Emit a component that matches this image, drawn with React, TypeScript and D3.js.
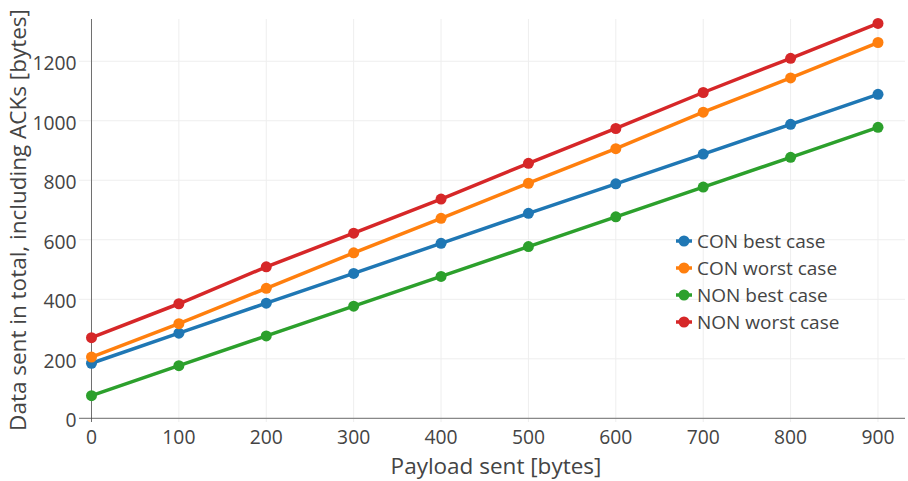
import React from "react";
import * as d3 from "d3";

const payload = [0, 100, 200, 300, 400, 500, 600, 700, 800, 900];
const conBest = [185, 286, 387, 487, 588, 689, 788, 888, 988, 1089];
const conWorst = [206, 318, 437, 556, 672, 790, 906, 1029, 1144, 1263];
const nonBest = [76, 177, 277, 377, 477, 577, 677, 777, 877, 978];
const nonWorst = [271, 385, 509, 622, 737, 857, 974, 1095, 1210, 1327];
const seriesNames = ["CON best case", "CON worst case", "NON best case", "NON worst case"];
const seriesColors = ["#1f77b4", "#ff7f0e", "#2ca02c", "#d62728"];
const xTicks = [0, 100, 200, 300, 400, 500, 600, 700, 800, 900];
const yTicks = [0, 200, 400, 600, 800, 1000, 1200];

const W = 908;
const H = 481;
const FONT = "'Open Sans', sans-serif";
const TEXT = "#444";

export default function App() {
  const x = d3.scaleLinear().domain([-14.3, 930.9]).range([79, 905]);
  const y = d3.scaleLinear().domain([-12.4, 1342]).range([422, 19]);
  const series = [conBest, conWorst, nonBest, nonWorst];
  const line = d3
    .line<number>()
    .x((_, i) => x(payload[i]))
    .y((d) => y(d));

  return (
    <svg
      width={W}
      height={H}
      style={{ position: "absolute", left: 0, top: 0, background: "#fff" }}
      fontFamily={FONT}
    >
      {/* grid */}
      {xTicks.map((t) => (
        <line key={"gx" + t} x1={x(t)} x2={x(t)} y1={19} y2={422} stroke="#eee" strokeWidth={1} />
      ))}
      {yTicks.map((t) => (
        <line key={"gy" + t} x1={79} x2={905} y1={y(t)} y2={y(t)} stroke="#eee" strokeWidth={1} />
      ))}
      {/* zero lines */}
      <line x1={x(0)} x2={x(0)} y1={19} y2={422} stroke="#444" strokeWidth={1} opacity={0.75} />
      <line x1={79} x2={905} y1={y(0)} y2={y(0)} stroke="#444" strokeWidth={1} opacity={0.75} />
      {/* tick labels */}
      {xTicks.map((t) => (
        <text key={"tx" + t} x={x(t)} y={443.5} textAnchor="middle" fontSize={19.3} fill={TEXT}>
          {t}
        </text>
      ))}
      {yTicks.map((t) => (
        <text key={"ty" + t} x={76.5} y={y(t) + 9} textAnchor="end" fontSize={19.3} fill={TEXT}>
          {t}
        </text>
      ))}
      {/* axis titles */}
      <text x={(79 + 905) / 2 + 4} y={474} textAnchor="middle" fontSize={22.5} fill={TEXT}>
        Payload sent [bytes]
      </text>
      <text
        transform={`translate(26,220) rotate(-90)`}
        textAnchor="middle"
        fontSize={22.5}
        fill={TEXT}
      >
        Data sent in total, including ACKs [bytes]
      </text>
      {/* series */}
      {series.map((s, k) => (
        <g key={"s" + k}>
          <path d={line(s) || ""} fill="none" stroke={seriesColors[k]} strokeWidth={3.5} />
          {s.map((v, i) => (
            <circle key={i} cx={x(payload[i])} cy={y(v)} r={5.5} fill={seriesColors[k]} />
          ))}
        </g>
      ))}
      {/* legend */}
      {seriesNames.map((n, k) => {
        const cy = 241 + k * 27;
        return (
          <g key={"l" + k}>
            <line x1={676} x2={692} y1={cy} y2={cy} stroke={seriesColors[k]} strokeWidth={3.5} />
            <circle cx={684} cy={cy} r={5.5} fill={seriesColors[k]} />
            <text x={697} y={cy + 6.8} fontSize={19} fill={TEXT}>
              {n}
            </text>
          </g>
        );
      })}
    </svg>
  );
}
